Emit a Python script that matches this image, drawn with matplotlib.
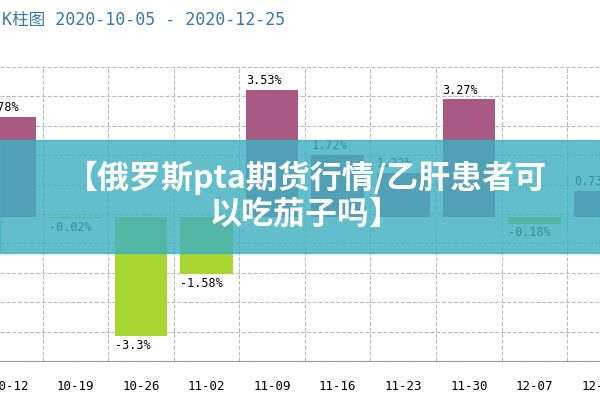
import matplotlib
matplotlib.use("Agg")
import matplotlib.pyplot as plt
import numpy as np

plt.rcParams['font.family'] = ['DejaVu Sans Mono', 'Noto Sans CJK SC']

dates = ["10-12", "10-19", "10-26", "11-02", "11-09", "11-16", "11-23", "11-30", "12-07", "12-14"]
values = [2.78, -0.02, -3.3, -1.58, 3.53, 1.72, 1.22, 3.27, -0.18, 0.73]
labels = ["2.78%", "-0.02%", "-3.3%", "-1.58%", "3.53%", "1.72%", "1.22%", "3.27%", "-0.18%", "0.73%"]
header = "K柱图 2020-10-05 - 2020-12-25"
title = "【俄罗斯pta期货行情/乙肝患者可\n以吃茄子吗】"

fig = plt.figure(figsize=(6, 4), dpi=100)
ax = fig.add_axes([0, 39/400, 1, 294/400])
x = np.arange(len(values))
colors = ["#A85A84" if v >= 0 else "#A9D531" for v in values]
ax.bar(x, values, width=0.8, color=colors, zorder=2)
for xi, v, l in zip(x, values, labels):
    if v >= 0:
        ax.text(xi - 0.4, v + 0.08, l, ha='left', va='bottom', fontsize=8.5, zorder=3)
    else:
        ax.text(xi - 0.4, v - 0.08, l, ha='left', va='top', fontsize=8.5, zorder=3)
ax.set_xlim(-0.15, 9.0)
ax.set_ylim(-4.0, 4.17)
ax.set_yticks(np.linspace(-4.0, 4.17, 11))
ax.set_xticks(x)
ax.set_xticklabels(dates, fontsize=9)
ax.set_xticks(x[:-1] + 0.5, minor=True)
ax.tick_params(axis='both', which='both', length=0)
ax.tick_params(axis='x', pad=14)
ax.set_yticklabels([])
ax.grid(True, axis='y', which='major', linestyle='--', color='#bbbbbb', linewidth=0.8)
ax.grid(True, axis='x', which='minor', linestyle='--', color='#bbbbbb', linewidth=0.8)
for s in ['top', 'left', 'right']:
    ax.spines[s].set_visible(False)
ax.spines['bottom'].set_color('#999999')

fig.text(0.003, 1 - 20/400, header, color='#3a78a8', fontsize=12, va='center', ha='left')

band = plt.Rectangle((0, 1 - 253/400), 1, 113/400, transform=fig.transFigure,
                     color='#3fb0c0', alpha=0.82, zorder=5)
fig.patches.append(band)
fig.text(0.51, 1 - 196/400, title, color='white', fontsize=23, fontweight='bold',
         ha='center', va='center', linespacing=1.15, zorder=6,
         family=['Noto Sans CJK SC', 'DejaVu Sans'])

fig.savefig("out.png", dpi=100)
